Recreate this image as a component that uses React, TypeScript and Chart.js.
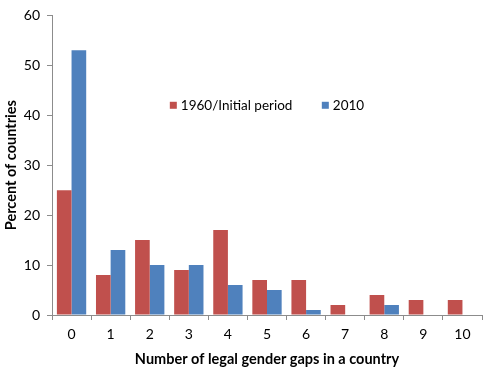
import React, { useEffect, useRef } from "react";
import { Chart, registerables } from "chart.js";

Chart.register(...registerables);

const categories = ["0", "1", "2", "3", "4", "5", "6", "7", "8", "9", "10"];
const series1960 = [25, 8, 15, 9, 17, 7, 7, 2, 4, 3, 3];
const series2010 = [53, 13, 10, 10, 6, 5, 1, 0, 2, 0, 0];
const yTicks = [0, 10, 20, 30, 40, 50, 60];
const seriesNames = ["1960/Initial period", "2010"];
const colors = ["#C0504D", "#4F81BD"];

const FONT = "Lato, 'Open Sans', sans-serif";

const legendPlugin = {
  id: "inlineLegend",
  afterDraw(chart: any) {
    const ctx = chart.ctx;
    const x = chart.scales.x;
    const y = chart.scales.y;
    const cy = y.getPixelForValue(42);
    ctx.save();
    ctx.font = `13.5px ${FONT}`;
    ctx.textBaseline = "middle";
    let px = x.getPixelForValue(3) - 19;
    seriesNames.forEach((name, i) => {
      ctx.fillStyle = colors[i];
      ctx.fillRect(px, cy - 3.5, 7, 7);
      ctx.fillStyle = "#000";
      ctx.textAlign = "left";
      ctx.fillText(name, px + 11, cy);
      px += 152;
    });
    ctx.restore();
  },
};

export default function App() {
  const ref = useRef<HTMLCanvasElement>(null);
  useEffect(() => {
    document.body.style.margin = "0";
    const chart = new Chart(ref.current!, {
      type: "bar",
      data: {
        labels: categories,
        datasets: [
          { label: seriesNames[0], data: series1960, backgroundColor: colors[0], categoryPercentage: 0.75, barPercentage: 1 },
          { label: seriesNames[1], data: series2010, backgroundColor: colors[1], categoryPercentage: 0.75, barPercentage: 1 },
        ],
      },
      options: {
        animation: false,
        responsive: false,
        layout: { padding: { top: 8, right: 18, left: 0, bottom: 0 } },
        plugins: { legend: { display: false }, tooltip: { enabled: false } },
        scales: {
          x: {
            grid: { offset: true, drawOnChartArea: false, tickLength: 5, color: "#8c8c8c" },
            border: { color: "#8c8c8c" },
            ticks: { color: "#000", font: { family: FONT, size: 14 }, padding: 6 },
            title: { display: true, text: "Number of legal gender gaps in a country", color: "#000", font: { family: FONT, size: 14.5, weight: "bold" }, padding: { top: 3, bottom: 0 } },
            afterFit(s: any) { s.height = 53; },
          },
          y: {
            min: 0,
            max: 60,
            afterBuildTicks(s: any) { s.ticks = yTicks.map((v) => ({ value: v })); },
            grid: { drawOnChartArea: false, tickLength: 5, color: "#8c8c8c" },
            border: { color: "#8c8c8c" },
            ticks: { color: "#000", font: { family: FONT, size: 14 }, padding: 7 },
            title: { display: true, text: "Percent of countries", color: "#000", font: { family: FONT, size: 14.5, weight: "bold" }, padding: { top: 3, bottom: 0 } },
            afterFit(s: any) { s.width = 52; },
          },
        },
      },
      plugins: [legendPlugin],
    });
    return () => chart.destroy();
  }, []);
  return <canvas ref={ref} width={500} height={368} style={{ display: "block" }} />;
}
